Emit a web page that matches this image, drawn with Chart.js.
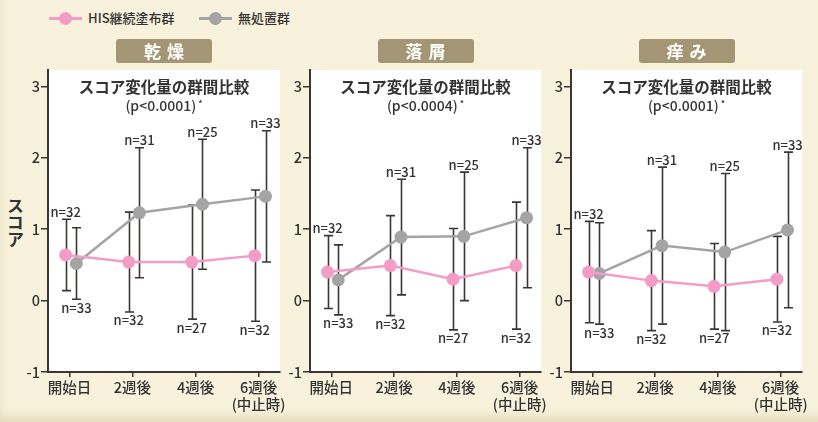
<!DOCTYPE html>
<html>
<head>
<meta charset="utf-8">
<script src="https://cdn.jsdelivr.net/npm/chart.js@4.4.1/dist/chart.umd.min.js"></script>
<style>
  body { margin: 0; }
  #wrap {
    position: relative; width: 818px; height: 422px; overflow: hidden;
    background: #f8f2dc;
    box-shadow: inset 4px -10px 12px -6px rgba(160, 130, 70, 0.25);
    font-family: "Noto Sans CJK JP", sans-serif; color: #333;
  }
  canvas { position: absolute; top: 58px; }
  .legend { position: absolute; top: 10px; font-size: 13px; line-height: 16px; font-weight: 500; }
  .legend .mark { position: absolute; top: 7px; width: 33px; height: 3px; }
  .legend .mark::after {
    content: ""; position: absolute; left: 10px; top: -5px;
    width: 13px; height: 13px; border-radius: 50%; background: inherit;
  }
  .legend .txt { position: absolute; left: 39px; top: 0; white-space: nowrap; }
  .head {
    position: absolute; top: 39px; width: 96px; height: 24px; margin-left: -48px;
    background: #a49674; border-radius: 3px; color: #fff; font-weight: bold;
    font-size: 17px; line-height: 24px; text-align: center; letter-spacing: 6px; text-indent: 6px;
  }
  .title {
    position: absolute; width: 230px; margin-left: -115px; text-align: center; color: #333;
  }
  .title .t1 { position: absolute; top: 76px; width: 100%; font-weight: bold; font-size: 15.5px; line-height: 20px; }
  .title .t2 { position: absolute; top: 94px; width: 100%; font-size: 14px; line-height: 19px; font-weight: 500; }
  .title .t2 sup { font-size: 9px; vertical-align: 4px; margin-left: 2px; }
  #ylab {
    position: absolute; left: 6px; top: 197px; writing-mode: vertical-rl;
    font-weight: bold; font-size: 17px; line-height: 18px; color: #333;
  }
</style>
</head>
<body>
<div id="wrap">
  <div class="legend" style="left:49px"><span class="mark" style="background:#f39cc6"></span><span class="txt">HIS継続塗布群</span></div>
  <div class="legend" style="left:199px"><span class="mark" style="background:#a4a4a4"></span><span class="txt">無処置群</span></div>
  <div id="ylab">スコア</div>
  <canvas id="c0" width="294" height="364" style="left:0px"></canvas>
  <canvas id="c1" width="273" height="364" style="left:282px"></canvas>
  <canvas id="c2" width="273" height="364" style="left:543px"></canvas>
</div>
<script>
// x axis categories and panel texts
const categories = ['開始日', '2週後', '4週後', ['6週後', '(中止時)']];
const panelNames = ['乾燥', '落屑', '痒み'];
const pTexts = ['(p<0.0001)', '(p<0.0004)', '(p<0.0001)'];

// n per group at each visit
const hisN = [32, 32, 27, 32];
const ctrlN = [33, 31, 25, 33];

// 乾燥
const dryHisMean = [0.64, 0.54, 0.54, 0.63];
const dryHisSd = [0.50, 0.70, 0.80, 0.92];
const dryCtrlMean = [0.52, 1.23, 1.35, 1.46];
const dryCtrlSd = [0.50, 0.91, 0.91, 0.92];

// 落屑
const scaleHisMean = [0.40, 0.49, 0.30, 0.49];
const scaleHisSd = [0.51, 0.70, 0.71, 0.89];
const scaleCtrlMean = [0.29, 0.89, 0.90, 1.16];
const scaleCtrlSd = [0.49, 0.81, 0.90, 0.98];

// 痒み
const itchHisMean = [0.40, 0.28, 0.20, 0.30];
const itchHisSd = [0.71, 0.70, 0.60, 0.60];
const itchCtrlMean = [0.38, 0.77, 0.68, 0.99];
const itchCtrlSd = [0.71, 1.10, 1.10, 1.09];

const PINK = '#f39cc6';
const GRAY = '#a4a4a4';
const INK = '#3d3434';
const FONT = '"Noto Sans CJK JP", sans-serif';

// horizontal nudge of each group around the tick
const HIS_SHIFT = -0.06;
const CTRL_SHIFT = 0.11;

const panels = [
  { his: dryHisMean, hisSd: dryHisSd, ctrl: dryCtrlMean, ctrlSd: dryCtrlSd, yw: 48, center: 164 },
  { his: scaleHisMean, hisSd: scaleHisSd, ctrl: scaleCtrlMean, ctrlSd: scaleCtrlSd, yw: 28, center: 425.5 },
  { his: itchHisMean, hisSd: itchHisSd, ctrl: itchCtrlMean, ctrlSd: itchCtrlSd, yw: 28, center: 686.5 }
];

const plotBg = {
  id: 'plotBg',
  beforeDraw(chart) {
    const a = chart.chartArea, ctx = chart.ctx;
    ctx.save();
    ctx.fillStyle = '#ffffff';
    ctx.fillRect(a.left, a.top, a.right - a.left, a.bottom - a.top);
    ctx.restore();
  }
};

const errorBars = {
  id: 'errorBars',
  beforeDatasetsDraw(chart) {
    const ctx = chart.ctx, xs = chart.scales.x, ys = chart.scales.y;
    ctx.save();
    ctx.strokeStyle = INK;
    ctx.lineWidth = 1.6;
    chart.data.datasets.forEach(ds => {
      ds.data.forEach((p, i) => {
        const x = Math.round(xs.getPixelForValue(p.x)) + 0.5;
        const yt = ys.getPixelForValue(p.y + ds.sd[i]);
        const yb = ys.getPixelForValue(p.y - ds.sd[i]);
        ctx.beginPath();
        ctx.moveTo(x, yt); ctx.lineTo(x, yb);
        ctx.moveTo(x - 4.5, yt); ctx.lineTo(x + 4.5, yt);
        ctx.moveTo(x - 4.5, yb); ctx.lineTo(x + 4.5, yb);
        ctx.stroke();
      });
    });
    ctx.restore();
  }
};

const nLabels = {
  id: 'nLabels',
  afterDatasetsDraw(chart) {
    const ctx = chart.ctx, xs = chart.scales.x, ys = chart.scales.y;
    const [a, b] = chart.data.datasets;
    ctx.save();
    ctx.fillStyle = '#333';
    ctx.font = '500 13px ' + FONT;
    ctx.textAlign = 'center';
    a.data.forEach((pa, i) => {
      const pb = b.data[i];
      const hi = pa.y >= pb.y ? [a, pa] : [b, pb];
      const lo = pa.y >= pb.y ? [b, pb] : [a, pa];
      ctx.textBaseline = 'bottom';
      ctx.fillText('n=' + hi[0].n[i], xs.getPixelForValue(hi[1].x), ys.getPixelForValue(hi[1].y + hi[0].sd[i]) - 1);
      ctx.textBaseline = 'top';
      ctx.fillText('n=' + lo[0].n[i], xs.getPixelForValue(lo[1].x), ys.getPixelForValue(lo[1].y - lo[0].sd[i]) + 2);
    });
    ctx.restore();
  }
};

const wrap = document.getElementById('wrap');

panels.forEach((p, k) => {
  const head = document.createElement('div');
  head.className = 'head';
  head.style.left = p.center + 'px';
  head.textContent = panelNames[k];
  wrap.appendChild(head);

  const title = document.createElement('div');
  title.className = 'title';
  title.style.left = p.center + 'px';
  title.innerHTML = '<div class="t1">スコア変化量の群間比較</div><div class="t2">' + pTexts[k] + '<sup>*</sup></div>';
  wrap.appendChild(title);

  new Chart(document.getElementById('c' + k), {
    type: 'line',
    data: {
      datasets: [
        {
          label: 'HIS継続塗布群',
          data: p.his.map((v, i) => ({ x: i + HIS_SHIFT, y: v })),
          sd: p.hisSd, n: hisN,
          borderColor: PINK, backgroundColor: PINK, borderWidth: 2.5,
          pointRadius: 6.5, pointBorderWidth: 0, pointBackgroundColor: PINK
        },
        {
          label: '無処置群',
          data: p.ctrl.map((v, i) => ({ x: i + CTRL_SHIFT, y: v })),
          sd: p.ctrlSd, n: ctrlN,
          borderColor: GRAY, backgroundColor: GRAY, borderWidth: 2.5,
          pointRadius: 6.5, pointBorderWidth: 0, pointBackgroundColor: GRAY
        }
      ]
    },
    options: {
      responsive: false,
      animation: false,
      devicePixelRatio: 1,
      layout: { padding: { top: 12, right: 14, left: 0, bottom: 0 } },
      plugins: { legend: { display: false }, tooltip: { enabled: false } },
      scales: {
        x: {
          type: 'linear', min: -0.34, max: 3.34,
          afterBuildTicks: s => { s.ticks = categories.map((c, i) => ({ value: i })); },
          afterFit: s => { s.height = 50; },
          grid: { drawOnChartArea: false, drawTicks: true, tickLength: 5, color: INK, lineWidth: 1.5 },
          border: { display: true, color: INK, width: 2 },
          ticks: {
            color: '#333', padding: 2, maxRotation: 0, autoSkip: false,
            font: { family: FONT, size: 14.5, weight: 500, lineHeight: 1.17 },
            callback: v => categories[v]
          }
        },
        y: {
          min: -1, max: 3.23,
          afterBuildTicks: s => { s.ticks = [-1, 0, 1, 2, 3].map(v => ({ value: v })); },
          afterFit: s => { s.width = p.yw; },
          grid: { drawOnChartArea: false, drawTicks: true, tickLength: 7, color: INK, lineWidth: 1.5 },
          border: { display: true, color: INK, width: 2 },
          ticks: { color: '#333', padding: 1, font: { family: FONT, size: 14.5, weight: 500 } }
        }
      }
    },
    plugins: [plotBg, errorBars, nLabels]
  });
});
</script>
</body>
</html>
